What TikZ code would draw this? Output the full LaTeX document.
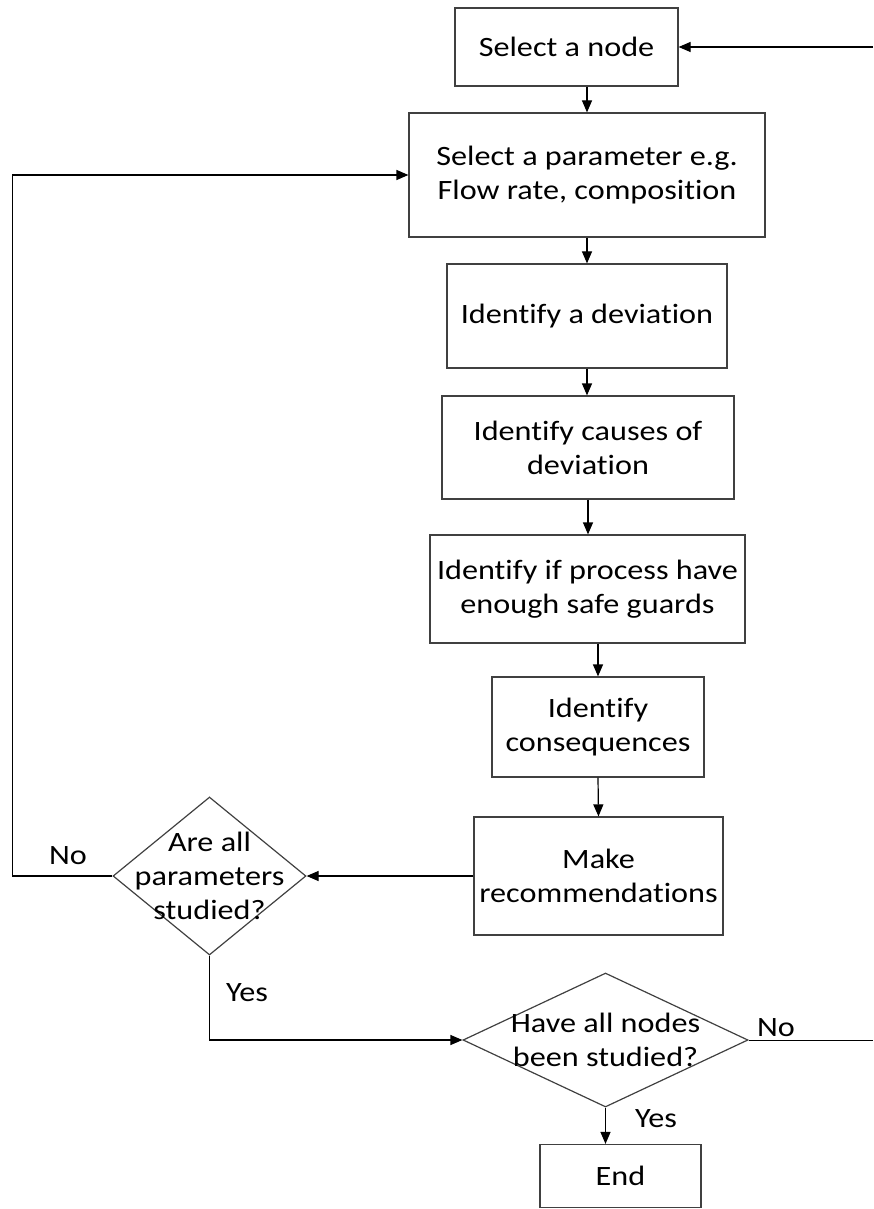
\documentclass[tikz,border=0pt]{standalone}
\usepackage{fontspec}
\setmainfont{Carlito}[FakeStretch=1.15,Ligatures=NoCommon]
\usetikzlibrary{arrows.meta,shapes,positioning}

\begin{document}
\begin{tikzpicture}[x=0.5pt,y=-0.5pt,font=\fontsize{14}{17}\selectfont,
  box/.style={draw=black!75,line width=0.6pt,align=center,inner sep=0pt},
  decision/.style={draw=black!75,diamond,line width=0.6pt,inner sep=0pt},
  flow/.style={-{Triangle[length=6pt,width=5pt]},line width=0.6pt}]
\useasboundingbox (0,0) rectangle (873,1209);
%
\node[box,minimum width=111.5pt,minimum height=39pt] (node) at (566.5,47) {Select a node};
\node[box,minimum width=178pt,minimum height=62pt] (param) at (587,175) {Select a parameter e.g.\\Flow rate, composition};
\node[box,minimum width=140pt,minimum height=52pt] (dev) at (587,316) {Identify a deviation};
\node[box,minimum width=146pt,minimum height=51.5pt] (cause) at (588,447.5) {Identify causes of\\deviation};
\node[box,minimum width=157.5pt,minimum height=54pt] (guard) at (587.5,589) {Identify if process have\\enough safe guards};
\node[box,minimum width=106pt,minimum height=50pt] (cons) at (598,727) {Identify\\consequences};
\node[box,minimum width=124.5pt,minimum height=59pt] (rec) at (598.5,876) {Make\\recommendations};
\node[decision,minimum width=96.5pt,minimum height=79pt] (params) at (209.5,876) {};
\node[align=center] (paramsq) at (params) {Are all\\parameters\\studied?};
\node[decision,minimum width=142.5pt,minimum height=67pt] (nodes) at (605.5,1040) {};
\node[align=center] (nodesq) at (nodes) {Have all nodes\\been studied?};
\node[box,minimum width=80.5pt,minimum height=31.5pt] (finish) at (620.5,1176) {End};
%
\coordinate (inR) at (873,47);
\coordinate (outR) at (873,1040);
%
\draw[flow] (inR) -- (node.east);
\draw[flow] (node.south -| param.north) -- (param.north);
\draw[flow] (param.south) -- (dev.north);
\draw[flow] (dev.south) -- (dev.south |- cause.north);
\draw[flow] (cause.south) -- (cause.south |- guard.north);
\draw[flow] (guard.south -| cons.north) -- (cons.north);
\draw[flow] (cons.south) -- (rec.north);
\draw[flow] (rec.west) -- (params.east);
\draw[flow] (params.west) -- ++(-100,0) |- (param.west);
\draw[flow] (params.south) |- (nodes.west);
\draw (nodes.east) -- (outR);
\draw[flow] (nodes.south) -- (nodes.south |- finish.north);
%
\node (no1) at (68,856) {No};
\node (yes1) at (247,993) {Yes};
\node (no2) at (776,1028) {No};
\node (yes2) at (656,1119) {Yes};
\end{tikzpicture}
\end{document}
